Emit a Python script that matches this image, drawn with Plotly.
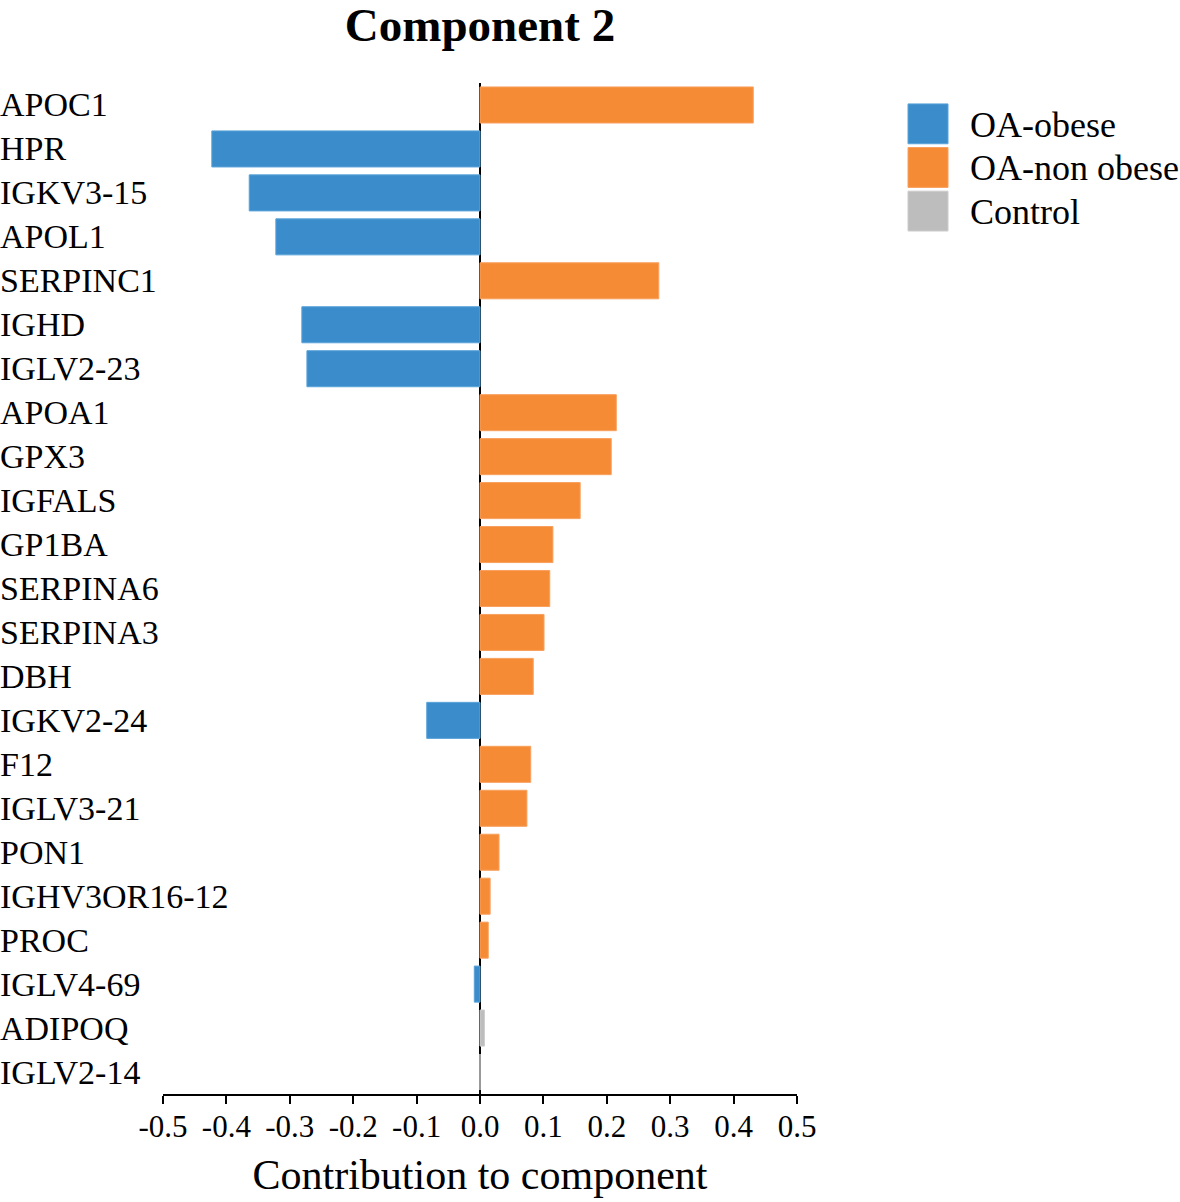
import plotly.graph_objects as go

proteins = ["APOC1", "HPR", "IGKV3-15", "APOL1", "SERPINC1", "IGHD", "IGLV2-23",
            "APOA1", "GPX3", "IGFALS", "GP1BA", "SERPINA6", "SERPINA3", "DBH",
            "IGKV2-24", "F12", "IGLV3-21", "PON1", "IGHV3OR16-12", "PROC",
            "IGLV4-69", "ADIPOQ", "IGLV2-14"]
contrib = [0.431, -0.423, -0.364, -0.322, 0.282, -0.281, -0.273,
           0.215, 0.207, 0.158, 0.115, 0.110, 0.101, 0.084,
           -0.084, 0.080, 0.074, 0.030, 0.016, 0.013,
           -0.009, 0.007, 0.0]
group = ["OA-non obese", "OA-obese", "OA-obese", "OA-obese", "OA-non obese", "OA-obese", "OA-obese",
         "OA-non obese", "OA-non obese", "OA-non obese", "OA-non obese", "OA-non obese", "OA-non obese", "OA-non obese",
         "OA-obese", "OA-non obese", "OA-non obese", "OA-non obese", "OA-non obese", "OA-non obese",
         "OA-obese", "Control", "Control"]
groups = ["OA-obese", "OA-non obese", "Control"]
colors = {"OA-obese": "#3a8ccb", "OA-non obese": "#f68b35", "Control": "#bdbdbd"}
edges = {"OA-obese": "#5aa3d8", "OA-non obese": "#f8a060", "Control": "#cccccc"}
xticks = [-0.5, -0.4, -0.3, -0.2, -0.1, 0.0, 0.1, 0.2, 0.3, 0.4, 0.5]

FONT = "Liberation Serif, Times New Roman, serif"

fig = go.Figure()
for g in groups:
    ys = [p for p, gg in zip(proteins, group) if gg == g]
    xs = [v for v, gg in zip(contrib, group) if gg == g]
    fig.add_trace(go.Bar(x=xs, y=ys, orientation="h", name=g,
                         marker=dict(color=colors[g], line=dict(color=edges[g], width=1)),
                         showlegend=False))

# category labels, left-aligned
for p in proteins:
    fig.add_annotation(x=-0.2595, xref="paper", y=p, yref="y", text=p, showarrow=False,
                       xanchor="left", yanchor="middle",
                       font=dict(family=FONT, size=34, color="black"))

# manual legend with large swatches
W, H = 1180, 1202
L, R, T, B = 163, 383, 83, 104
pw, ph = W - L - R, H - T - B
def px(x):
    return (x - L) / pw
def py(y):
    return 1 - (y - T) / ph
for i, g in enumerate(groups):
    y0 = 104 + i * 43.8
    fig.add_shape(type="rect", xref="paper", yref="paper",
                  x0=px(908), x1=px(948), y0=py(y0 + 40), y1=py(y0),
                  fillcolor=colors[g], line=dict(color=edges[g], width=1))
    fig.add_annotation(x=px(968), xref="paper", y=py(y0 + 21), yref="paper", text=g,
                       showarrow=False, xanchor="left", yanchor="middle",
                       font=dict(family=FONT, size=36, color="black"))

fig.update_layout(
    width=W, height=H,
    margin=dict(l=L, r=R, t=T, b=B),
    plot_bgcolor="white", paper_bgcolor="white",
    bargap=0.18, barmode="overlay",
    font=dict(family=FONT, color="black"),
    title=dict(text="<b>Component 2</b>", x=0.5, xref="paper", y=1 - 25 / H, yref="container",
               xanchor="center", yanchor="middle",
               font=dict(family=FONT, size=47, color="black")),
    xaxis=dict(range=[-0.5, 0.5], tickvals=xticks, ticktext=[f"{v:.1f}" for v in xticks],
               showgrid=False, showline=True, linecolor="black", linewidth=2,
               ticks="outside", ticklen=8, tickwidth=2, tickcolor="black",
               tickfont=dict(family=FONT, size=31, color="black"),
               ticklabelstandoff=-4,
               zeroline=True, zerolinecolor="black", zerolinewidth=2,
               title=dict(text="Contribution to component", standoff=16,
                          font=dict(family=FONT, size=42, color="black"))),
    yaxis=dict(categoryorder="array", categoryarray=proteins, autorange="reversed",
               showticklabels=False, showgrid=False, showline=False, ticks="",
               zeroline=False),
)

fig.write_html("out.html", config={"displayModeBar": False},
               post_script="document.body.style.margin='0';document.body.style.padding='0';")
